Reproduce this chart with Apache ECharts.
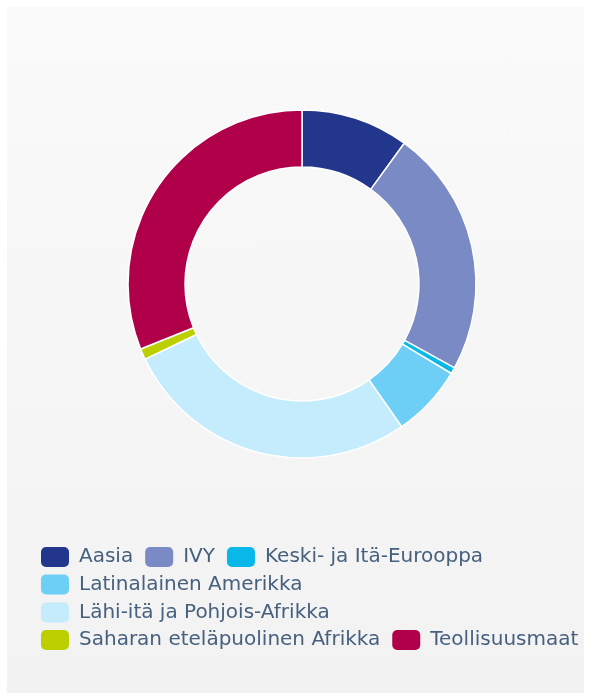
<!DOCTYPE html>
<html lang="fi">
<head>
    <meta charset="UTF-8">
    <title>Alueet</title>
    <script src="https://cdn.jsdelivr.net/npm/echarts@6/dist/echarts.min.js"></script>
    <style>
        html, body {
            margin: 0;
            padding: 0;
            width: 590px;
            height: 695px;
            background: #ffffff;
        }
        #bg {
            position: absolute;
            left: 7px;
            top: 7px;
            width: 577px;
            height: 686px;
            background: linear-gradient(#fafafa, #f2f2f2);
        }
        #main {
            position: absolute;
            left: 0;
            top: 0;
            width: 590px;
            height: 695px;
        }
    </style>
</head>
<body>
<div id="bg"></div>
<div id="main"></div>
<script>
    // alueet ja osuudet (%)
    var regions = ['Aasia', 'IVY', 'Keski- ja Itä-Eurooppa', 'Latinalainen Amerikka',
        'Lähi-itä ja Pohjois-Afrikka', 'Saharan eteläpuolinen Afrikka', 'Teollisuusmaat'];
    var shares = [10.0, 23.0, 0.6, 6.7, 27.6, 1.0, 31.1];
    var colors = ['#22378c', '#7a8ac4', '#08b8e8', '#6ecff6', '#c5ecfc', '#bccf00', '#b0004a'];

    // legendan rivit
    var legendRows = [
        ['Aasia', 'IVY', 'Keski- ja Itä-Eurooppa'],
        ['Latinalainen Amerikka'],
        ['Lähi-itä ja Pohjois-Afrikka'],
        ['Saharan eteläpuolinen Afrikka', 'Teollisuusmaat']
    ];

    var myChart = echarts.init(document.getElementById('main'));

    var pieData = [];
    for (var i = 0; i < regions.length; i++) {
        pieData.push({
            name: regions[i],
            value: shares[i],
            itemStyle: {color: colors[i]}
        });
    }

    var rowTops = [547, 574.5, 602.5, 630];
    var legends = legendRows.map(function (row, r) {
        return {
            data: row,
            left: 41,
            top: rowTops[r],
            width: 549,
            padding: 0,
            orient: 'horizontal',
            itemWidth: 28,
            itemHeight: 20,
            itemGap: 12,
            icon: 'roundRect',
            selectedMode: false,
            itemStyle: {
                borderWidth: 0
            },
            textStyle: {
                fontFamily: 'DejaVu Sans',
                fontSize: 20,
                color: '#46607e',
                padding: [0, 0, 0, 5]
            }
        };
    });

    var option = {
        backgroundColor: 'transparent',
        animation: false,
        legend: legends,
        series: [{
            name: 'Alueet',
            type: 'pie',
            center: [302, 284],
            radius: [117, 174],
            startAngle: 90,
            clockwise: true,
            avoidLabelOverlap: false,
            label: {show: false},
            labelLine: {show: false},
            itemStyle: {
                borderColor: '#ffffff',
                borderWidth: 1.5
            },
            data: pieData
        }]
    };

    myChart.setOption(option);
</script>
</body>
</html>
